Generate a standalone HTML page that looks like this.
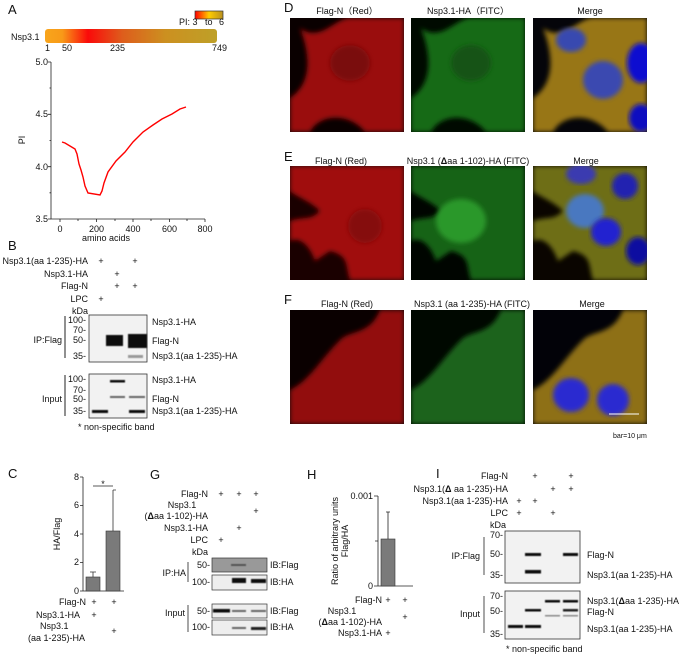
<!DOCTYPE html>
<html><head><meta charset="utf-8"><style>
body{margin:0;background:#fff}
svg{display:block;font-family:"Liberation Sans",Arial,sans-serif}
text{font-size:9px;fill:#111}
.L{font-size:13px}
.e{text-anchor:end}
.m{text-anchor:middle}
</style></head><body>
<svg width="685" height="657" viewBox="0 0 685 657" xmlns="http://www.w3.org/2000/svg">
<defs>
<linearGradient id="pg" x1="0" x2="1">
<stop offset="0" stop-color="#f8a51c"/><stop offset="0.1" stop-color="#f89a18"/><stop offset="0.25" stop-color="#fa0a0a"/><stop offset="0.45" stop-color="#de5d1c"/><stop offset="0.7" stop-color="#cc9020"/><stop offset="1" stop-color="#bea028"/></linearGradient>
<linearGradient id="sc" x1="0" x2="1"><stop offset="0" stop-color="#f00"/><stop offset="0.5" stop-color="#fc0"/><stop offset="1" stop-color="#b89020"/></linearGradient>
<filter id="bl" x="-10%" y="-10%" width="120%" height="120%"><feGaussianBlur stdDeviation="2.5"/></filter>
<filter id="b1"><feGaussianBlur stdDeviation="0.6"/></filter>
<clipPath id="cp"><rect width="114" height="114"/></clipPath>
<path id="sD" d="M10,10 C30,25 45,0 60,0 L114,0 L114,114 L75,114 C60,95 30,95 20,114 L0,114 L0,80 C15,70 25,50 10,10 Z"/>
<path id="sE" d="M0,0 L114,0 L114,114 L60,114 C55,100 60,90 40,85 L25,95 C20,80 10,70 0,75 L0,55 C15,50 20,55 30,45 C20,35 5,30 0,25 Z"/>
<path id="sF" d="M50,30 C60,20 80,25 90,0 L114,0 L114,114 L0,114 L0,80 C20,70 30,50 50,30 Z"/>
</defs>

<!-- Panel A -->
<text x="8" y="14" class="L">A</text>
<rect x="195" y="11" width="28" height="8" fill="url(#sc)" stroke="#333" stroke-width="0.7"/>
<text x="179" y="25">PI: 3</text><text x="205" y="25">to</text><text x="219" y="25">6</text>
<text x="11" y="40">Nsp3.1</text>
<rect x="45" y="29" width="172" height="14" rx="3" fill="url(#pg)"/>
<text x="45" y="51">1</text><text x="62" y="51">50</text><text x="110" y="51">235</text><text x="212" y="51">749</text>
<g stroke="#222" stroke-width="0.8" fill="none">
<path d="M51,62 V219 H205"/>
<path d="M51,62h-3M51,114.3h-3M51,166.7h-3M51,219h-3M51,88h-1.5M51,140.5h-1.5M51,192.8h-1.5"/>
<path d="M60,219v3M96.5,219v3M133,219v3M169.5,219v3M205,219v3M78,219v2M115,219v2M151,219v2M187,219v2"/>
</g>
<text x="48" y="65" class="e">5.0</text><text x="48" y="117" class="e">4.5</text><text x="48" y="170" class="e">4.0</text><text x="48" y="222" class="e">3.5</text>
<text x="60" y="232" class="m">0</text><text x="96.5" y="232" class="m">200</text><text x="133" y="232" class="m">400</text><text x="169.5" y="232" class="m">600</text><text x="205" y="232" class="m">800</text>
<text x="106" y="241" class="m">amino acids</text>
<text transform="translate(25,140) rotate(-90)" class="m">PI</text>
<polyline fill="none" stroke="#f00" stroke-width="1.4" points="62,142 65,143 75,149 77,154 79,164 81,170 83,177 85,186 88,193 100,195 102,191 104,183 108,172 116,161 125,152 133,142 143,132 153,125 162,119 172,114 180,109 186,107"/>

<!-- Panel B -->
<text x="8" y="250" class="L">B</text>
<text x="88" y="264" class="e">Nsp3.1(aa 1-235)-HA</text><text x="101" y="264" class="m">+</text><text x="135" y="264" class="m">+</text>
<text x="88" y="277" class="e">Nsp3.1-HA</text><text x="117" y="277" class="m">+</text>
<text x="88" y="289" class="e">Flag-N</text><text x="117" y="289" class="m">+</text><text x="135" y="289" class="m">+</text>
<text x="88" y="302" class="e">LPC</text><text x="101" y="302" class="m">+</text>
<text x="88" y="314" class="e">kDa</text>
<rect x="89" y="315" width="58" height="47" fill="#f2f2f2" stroke="#333" stroke-width="0.8"/>
<g filter="url(#b1)"><rect x="106" y="335" width="17" height="11" fill="#111"/><rect x="128" y="334" width="19" height="14" fill="#111"/><rect x="128" y="355" width="15" height="3" fill="#999"/></g>
<text x="86" y="323" class="e">100-</text><text x="86" y="333" class="e">70-</text><text x="86" y="343" class="e">50-</text><text x="86" y="359" class="e">35-</text>
<text x="152" y="325">Nsp3.1-HA</text><text x="152" y="344">Flag-N</text><text x="152" y="359">Nsp3.1(aa 1-235)-HA</text>
<text x="62" y="343" class="e">IP:Flag</text><path d="M65,316V358" stroke="#222"/>
<rect x="89" y="374" width="58" height="44" fill="#f2f2f2" stroke="#333" stroke-width="0.8"/>
<g filter="url(#b1)"><rect x="110" y="380" width="15" height="2.5" fill="#111"/><rect x="110" y="396" width="15" height="2" fill="#666"/><rect x="129" y="396" width="16" height="2" fill="#666"/><rect x="92" y="410" width="16" height="3" fill="#111"/><rect x="129" y="410" width="16" height="3" fill="#111"/></g>
<text x="86" y="382" class="e">100-</text><text x="86" y="393" class="e">70-</text><text x="86" y="402" class="e">50-</text><text x="86" y="414" class="e">35-</text>
<text x="152" y="383">Nsp3.1-HA</text><text x="152" y="402">Flag-N</text><text x="152" y="414">Nsp3.1(aa 1-235)-HA</text>
<text x="62" y="402" class="e">Input</text><path d="M65,375V416" stroke="#222"/>
<text x="78" y="430">* non-specific band</text>

<!-- Panel C -->
<text x="8" y="478" class="L">C</text>
<g stroke="#222" stroke-width="0.8" fill="none"><path d="M83,477V591H124M83,477h-3M83,505.5h-3M83,534h-3M83,562.5h-3M83,591h-3M93,486H113"/></g>
<text x="79" y="480" class="e">8</text><text x="79" y="508" class="e">6</text><text x="79" y="537" class="e">4</text><text x="79" y="565" class="e">2</text><text x="79" y="594" class="e">0</text>
<text x="103" y="487" class="m">*</text>
<text transform="translate(60,534) rotate(-90)" class="m">HA/Flag</text>
<path d="M93,577V572M90,572h6M113,531V490M113,490h3" stroke="#333" stroke-width="0.8"/>
<rect x="86" y="577" width="14" height="14" fill="#7a7a7a" stroke="#333" stroke-width="0.6"/>
<rect x="106" y="531" width="14" height="60" fill="#7a7a7a" stroke="#333" stroke-width="0.6"/>
<text x="86" y="605" class="e">Flag-N</text><text x="94" y="605" class="m">+</text><text x="114" y="605" class="m">+</text>
<text x="80" y="618" class="e">Nsp3.1-HA</text><text x="94" y="618" class="m">+</text>
<text x="40" y="629">Nsp3.1</text><text x="28" y="641">(aa 1-235)-HA</text><text x="114" y="634" class="m">+</text>

<!-- Panel G -->
<text x="150" y="479" class="L">G</text>
<text x="208" y="497" class="e">Flag-N</text><text x="221" y="497" class="m">+</text><text x="239" y="497" class="m">+</text><text x="256" y="497" class="m">+</text>
<text x="182" y="508" class="m">Nsp3.1</text><text x="208" y="519" class="e">(<tspan font-weight="bold">Δ</tspan>aa 1-102)-HA</text><text x="256" y="514" class="m">+</text>
<text x="208" y="531" class="e">Nsp3.1-HA</text><text x="239" y="531" class="m">+</text>
<text x="208" y="543" class="e">LPC</text><text x="221" y="543" class="m">+</text>
<text x="208" y="555" class="e">kDa</text>
<rect x="212" y="558" width="55" height="14" fill="#999" stroke="#333" stroke-width="0.7"/>
<rect x="212" y="575" width="55" height="15" fill="#eee" stroke="#333" stroke-width="0.7"/>
<rect x="212" y="604" width="55" height="14" fill="#eee" stroke="#333" stroke-width="0.7"/>
<rect x="212" y="620" width="55" height="15" fill="#eee" stroke="#333" stroke-width="0.7"/>
<g filter="url(#b1)"><rect x="231" y="564" width="15" height="2" fill="#555"/><rect x="232" y="578" width="14" height="5" fill="#111"/><rect x="251" y="579" width="15" height="4" fill="#111"/>
<rect x="213" y="609" width="17" height="3.5" fill="#111"/><rect x="232" y="610" width="14" height="2" fill="#666"/><rect x="251" y="610" width="15" height="2" fill="#666"/><rect x="232" y="627" width="14" height="2" fill="#666"/><rect x="251" y="627" width="15" height="3" fill="#222"/></g>
<text x="210" y="568" class="e">50-</text><text x="210" y="585" class="e">100-</text><text x="210" y="614" class="e">50-</text><text x="210" y="630" class="e">100-</text>
<text x="270" y="568">IB:Flag</text><text x="270" y="585">IB:HA</text><text x="270" y="614">IB:Flag</text><text x="270" y="630">IB:HA</text>
<text x="186" y="576" class="e">IP:HA</text><path d="M188,562V582" stroke="#222" stroke-width="0.8"/>
<text x="185" y="616" class="e">Input</text><path d="M188,605V632" stroke="#222" stroke-width="0.8"/>

<!-- Panel H -->
<text x="307" y="479" class="L">H</text>
<g stroke="#222" stroke-width="0.8" fill="none"><path d="M378,496V586H413M378,496h-4M378,541h-3M378,586h-4M388,539V512M386,512h4"/></g>
<text x="373" y="499" class="e">0.001</text><text x="373" y="589" class="e">0</text>
<rect x="381" y="539" width="14" height="47" fill="#7a7a7a" stroke="#333" stroke-width="0.6"/>
<text transform="translate(338,541) rotate(-90)" class="m">Ratio of arbitrary units</text>
<text transform="translate(348,541) rotate(-90)" class="m">Flag/HA</text>
<text x="382" y="603" class="e">Flag-N</text><text x="388" y="603" class="m">+</text><text x="405" y="603" class="m">+</text>
<text x="342" y="614" class="m">Nsp3.1</text><text x="382" y="625" class="e">(<tspan font-weight="bold">Δ</tspan>aa 1-102)-HA</text><text x="405" y="620" class="m">+</text>
<text x="382" y="636" class="e">Nsp3.1-HA</text><text x="388" y="636" class="m">+</text>

<!-- Panel I -->
<text x="436" y="478" class="L">I</text>
<text x="508" y="479" class="e">Flag-N</text><text x="535" y="479" class="m">+</text><text x="571" y="479" class="m">+</text>
<text x="508" y="492" class="e">Nsp3.1(<tspan font-weight="bold">Δ</tspan> aa 1-235)-HA</text><text x="553" y="492" class="m">+</text><text x="571" y="492" class="m">+</text>
<text x="508" y="504" class="e">Nsp3.1(aa 1-235)-HA</text><text x="519" y="504" class="m">+</text><text x="535" y="504" class="m">+</text>
<text x="508" y="516" class="e">LPC</text><text x="519" y="516" class="m">+</text><text x="553" y="516" class="m">+</text>
<text x="490" y="528">kDa</text>
<rect x="505" y="531" width="75" height="52" fill="#f2f2f2" stroke="#333" stroke-width="0.8"/>
<rect x="505" y="591" width="75" height="48" fill="#f2f2f2" stroke="#333" stroke-width="0.8"/>
<g filter="url(#b1)"><rect x="525" y="553" width="16" height="3" fill="#111"/><rect x="563" y="553" width="15" height="3" fill="#111"/><rect x="525" y="570" width="16" height="3.5" fill="#111"/>
<rect x="545" y="600" width="15" height="2.5" fill="#111"/><rect x="563" y="600" width="15" height="2.5" fill="#111"/><rect x="525" y="609" width="16" height="2.5" fill="#111"/><rect x="563" y="609" width="15" height="2.5" fill="#222"/><rect x="545" y="615" width="15" height="1.5" fill="#888"/><rect x="563" y="615" width="15" height="1.5" fill="#888"/><rect x="508" y="625" width="15" height="3" fill="#111"/><rect x="525" y="625" width="16" height="3" fill="#111"/></g>
<text x="503" y="538" class="e">70-</text><text x="503" y="557" class="e">50-</text><text x="503" y="578" class="e">35-</text>
<text x="503" y="599" class="e">70-</text><text x="503" y="614" class="e">50-</text><text x="503" y="637" class="e">35-</text>
<text x="587" y="558">Flag-N</text><text x="587" y="578">Nsp3.1(aa 1-235)-HA</text>
<text x="587" y="604">Nsp3.1(<tspan font-weight="bold">Δ</tspan>aa 1-235)-HA</text><text x="587" y="615">Flag-N</text><text x="587" y="632">Nsp3.1(aa 1-235)-HA</text>
<text x="480" y="559" class="e">IP:Flag</text><path d="M484,537V575" stroke="#222" stroke-width="0.8"/>
<text x="480" y="617" class="e">Input</text><path d="M484,596V633" stroke="#222" stroke-width="0.8"/>
<text x="506" y="652">* non-specific band</text>

<!-- Microscopy -->
<text x="284" y="12" class="L">D</text><text x="284" y="161" class="L">E</text><text x="284" y="304" class="L">F</text>
<text x="347" y="14" class="m">Flag-N（Red）</text><text x="468" y="14" class="m">Nsp3.1-HA（FITC）</text><text x="590" y="14" class="m">Merge</text>
<text x="341" y="164" class="m">Flag-N (Red)</text><text x="468" y="164" class="m">Nsp3.1 (<tspan font-weight="bold">Δ</tspan>aa 1-102)-HA (FITC)</text><text x="586" y="164" class="m">Merge</text>
<text x="347" y="307" class="m">Flag-N (Red)</text><text x="472" y="307" class="m">Nsp3.1 (aa 1-235)-HA (FITC)</text><text x="592" y="307" class="m">Merge</text>

<!-- row D -->
<g transform="translate(290,18)"><rect width="114" height="114" fill="#0a0000"/><g clip-path="url(#cp)"><use href="#sD" fill="#9a0e0e" filter="url(#bl)"/><ellipse cx="60" cy="45" rx="20" ry="18" fill="#7a0808" filter="url(#bl)"/></g></g>
<g transform="translate(411,18)"><rect width="114" height="114" fill="#000a00"/><g clip-path="url(#cp)"><use href="#sD" fill="#186a18" filter="url(#bl)"/><ellipse cx="60" cy="45" rx="20" ry="18" fill="#125212" filter="url(#bl)"/></g></g>
<g transform="translate(533,18)"><rect width="114" height="114" fill="#05050a"/><g clip-path="url(#cp)"><use href="#sD" fill="#987614" filter="url(#bl)"/><ellipse cx="70" cy="62" rx="20" ry="19" fill="#3a4ab0" filter="url(#bl)"/><ellipse cx="38" cy="22" rx="15" ry="12" fill="#3848b0" filter="url(#bl)"/><ellipse cx="108" cy="45" rx="14" ry="20" fill="#1010d0" filter="url(#bl)"/><ellipse cx="108" cy="100" rx="12" ry="14" fill="#1010c0" filter="url(#bl)"/></g></g>
<!-- row E -->
<g transform="translate(290,166)"><rect width="114" height="114" fill="#1a0000"/><g clip-path="url(#cp)"><use href="#sE" fill="#a01010" filter="url(#bl)"/><ellipse cx="75" cy="60" rx="17" ry="17" fill="#850a0a" filter="url(#bl)"/></g></g>
<g transform="translate(411,166)"><rect width="114" height="114" fill="#000500"/><g clip-path="url(#cp)"><use href="#sE" fill="#186418" filter="url(#bl)"/><ellipse cx="50" cy="55" rx="25" ry="22" fill="#2a982a" filter="url(#bl)"/></g></g>
<g transform="translate(533,166)"><rect width="114" height="114" fill="#0a0500"/><g clip-path="url(#cp)"><use href="#sE" fill="#6e6e16" filter="url(#bl)"/><ellipse cx="52" cy="45" rx="19" ry="17" fill="#4a78c0" filter="url(#bl)"/><ellipse cx="73" cy="66" rx="15" ry="14" fill="#2020d0" filter="url(#bl)"/><ellipse cx="92" cy="20" rx="13" ry="13" fill="#2020b0" filter="url(#bl)"/><ellipse cx="48" cy="8" rx="15" ry="10" fill="#3a3ab0" filter="url(#bl)"/><ellipse cx="105" cy="85" rx="12" ry="14" fill="#1010a0" filter="url(#bl)"/></g></g>
<!-- row F -->
<g transform="translate(290,310)"><rect width="114" height="114" fill="#0a0000"/><g clip-path="url(#cp)"><use href="#sF" fill="#920e0e" filter="url(#bl)"/></g></g>
<g transform="translate(411,310)"><rect width="114" height="114" fill="#000800"/><g clip-path="url(#cp)"><use href="#sF" fill="#1a641a" filter="url(#bl)"/></g></g>
<g transform="translate(533,310)"><rect width="114" height="114" fill="#020208"/><g clip-path="url(#cp)"><use href="#sF" fill="#8e7016" filter="url(#bl)"/><ellipse cx="38" cy="85" rx="18" ry="17" fill="#2a2ad0" filter="url(#bl)"/><ellipse cx="80" cy="90" rx="16" ry="16" fill="#2a2ad0" filter="url(#bl)"/></g><path d="M76,104H106" stroke="#fff" stroke-width="1"/></g>
<text x="613" y="438" style="font-size:7px">bar=10 μm</text>
</svg>
</body></html>
